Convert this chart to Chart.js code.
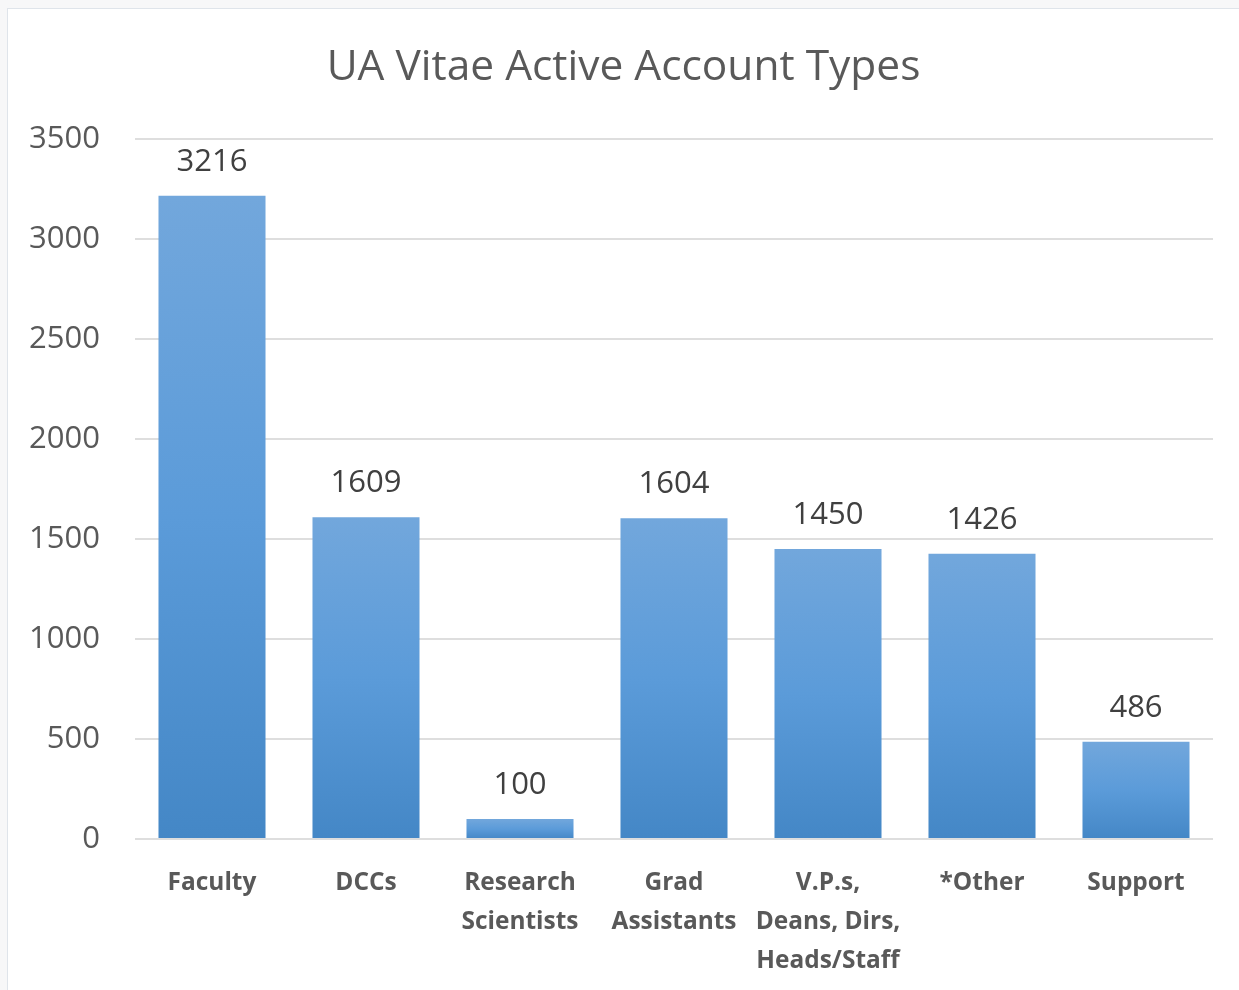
<!DOCTYPE html>
<html>
<head>
<meta charset="utf-8">
<script src="https://cdn.jsdelivr.net/npm/chart.js@4.4.0/dist/chart.umd.min.js"></script>
<style>
  html, body { margin: 0; padding: 0; background: #f7f7f8; overflow: hidden; }
  #frame { position: absolute; left: 7px; top: 8px; width: 1240px; height: 990px; background: #fff; border: 1px solid #dfe4ea; }
  canvas { display: block; }
</style>
</head>
<body>
<div id="frame"><canvas id="c" width="1231" height="981"></canvas></div>
<script>
const categories = [
  ['Faculty'],
  ['DCCs'],
  ['Research', 'Scientists'],
  ['Grad', 'Assistants'],
  ['V.P.s,', 'Deans, Dirs,', 'Heads/Staff'],
  ['*Other'],
  ['Support']
];
const values = [3216, 1609, 100, 1604, 1450, 1426, 486];
const yMin = 0, yMax = 3500, yStep = 500;
const titleText = 'UA Vitae Active Account Types';

const FAMILY = '"Open Sans", "Noto Sans", sans-serif';
function fitFont(text, target, weight) {
  const cv = document.createElement('canvas').getContext('2d');
  cv.font = `${weight} 100px ${FAMILY}`;
  return 100 * target / cv.measureText(text).width;
}
const titleSize = fitFont(titleText, 594, 'normal');
const tickSize = fitFont('3500', 71, 'normal');
const labelSize = fitFont('3216', 71, 'normal');
const xSize = fitFont('Assistants', 125, 'bold');

function barGradient(ctx) {
  const chart = ctx.chart;
  if (!chart.chartArea || ctx.type !== 'data') return '#5b9bd5';
  const y = chart.scales.y;
  const top = y.getPixelForValue(ctx.raw);
  const bot = y.getPixelForValue(0);
  const g = chart.ctx.createLinearGradient(0, top, 0, bot);
  g.addColorStop(0, '#72a7dc');
  g.addColorStop(0.5, '#5b9bd9');
  g.addColorStop(1, '#4487c6');
  return g;
}

const titlePlugin = {
  id: 'centerTitle',
  afterDraw(chart) {
    const c = chart.ctx;
    c.save();
    c.font = `normal ${titleSize}px ${FAMILY}`;
    c.fillStyle = '#595959';
    c.textAlign = 'center';
    c.textBaseline = 'middle';
    c.fillText(titleText, chart.width / 2, 59);
    c.restore();
  }
};

const dataLabels = {
  id: 'dataLabels',
  afterDatasetsDraw(chart) {
    const c = chart.ctx;
    const meta = chart.getDatasetMeta(0);
    c.save();
    c.font = `normal ${labelSize}px ${FAMILY}`;
    c.fillStyle = '#404040';
    c.textAlign = 'center';
    c.textBaseline = 'middle';
    meta.data.forEach((el, i) => {
      c.fillText(String(values[i]), el.x, el.y - 34);
    });
    c.restore();
  }
};

new Chart(document.getElementById('c'), {
  type: 'bar',
  data: {
    labels: categories,
    datasets: [{
      data: values,
      backgroundColor: barGradient,
      borderWidth: 0,
      barPercentage: 0.695,
      categoryPercentage: 1
    }]
  },
  options: {
    responsive: false,
    animation: false,
    layout: { padding: { left: 0, right: 26, top: 130, bottom: 0 } },
    plugins: {
      legend: { display: false },
      tooltip: { enabled: false },
      title: { display: false }
    },
    scales: {
      x: {
        grid: { display: false, drawTicks: false },
        border: { display: false },
        ticks: {
          color: '#595959',
          padding: 24,
          maxRotation: 0,
          autoSkip: false,
          font: { family: FAMILY, size: xSize, weight: 'bold', lineHeight: 1.6 }
        },
        afterFit(s) { s.height = 151; }
      },
      y: {
        min: yMin, max: yMax,
        grid: { color: '#dedede', lineWidth: 2, drawTicks: false },
        border: { display: false },
        ticks: {
          stepSize: yStep,
          color: '#595959',
          padding: 35,
          font: { family: FAMILY, size: tickSize, weight: 'normal' },
          callback: (v) => String(v)
        },
        afterFit(s) { s.width = 127; }
      }
    }
  },
  plugins: [dataLabels, titlePlugin]
});
</script>
</body>
</html>
